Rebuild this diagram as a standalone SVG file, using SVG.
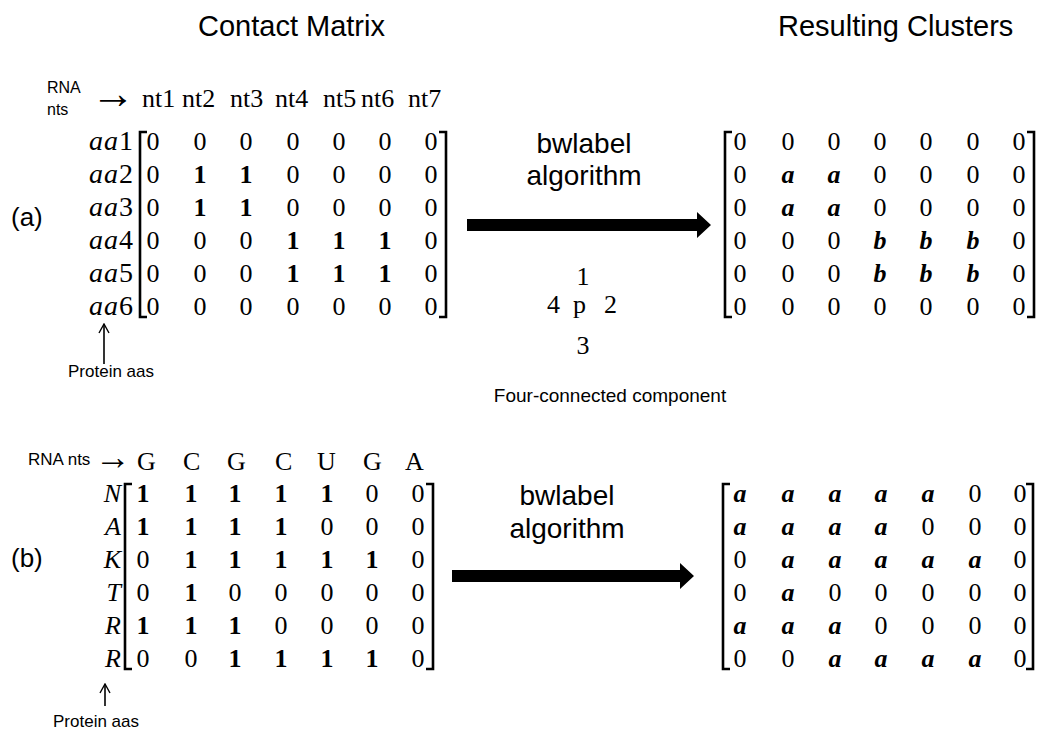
<svg xmlns="http://www.w3.org/2000/svg" width="1037" height="730" viewBox="0 0 1037 730">
  <style>
    .sans { font-family: "Liberation Sans", Arial, sans-serif; fill: #000; }
    .title { font-size: 29px; }
    .lbl { font-size: 26px; }
    .algo { font-size: 28px; text-anchor: middle; }
    .small { font-size: 17px; }
    .math { font-family: "Liberation Serif", "Times New Roman", serif; font-size: 26px; fill: #000; }
    .rowlab { font-size: 28px; letter-spacing: 1px; }
    .arrowglyph { font-family: "Liberation Sans", Arial, sans-serif; fill: #000; }
    .m text, text.c { text-anchor: middle; }
    .one { font-weight: bold; }
    .lab { font-weight: bold; font-style: italic; }
    .it { font-style: italic; }
    .br { fill: none; stroke: #000; stroke-width: 2.6; }
    .thin { fill: none; stroke: #000; stroke-width: 1.6; }
  </style>
  <defs>
    <marker id="openhead" viewBox="0 0 12 12" refX="11" refY="6" markerWidth="12" markerHeight="12" markerUnits="userSpaceOnUse" orient="auto">
      <path d="M2,1 L11,6 L2,11" fill="none" stroke="#000" stroke-width="1.4"/>
    </marker>
  </defs>

  <!-- headings -->
  <g id="title-contact"><text class="sans title" x="198" y="36">Contact Matrix</text></g>
  <g id="title-clusters"><text class="sans title" x="778" y="36">Resulting Clusters</text></g>

  <!-- part (a): contact matrix -->
  <g id="panel-a-label"><text class="sans lbl" x="11" y="226">(a)</text></g>

  <g id="a-header">
    <text class="sans" font-size="16" x="47" y="93">RNA</text>
    <text class="sans" font-size="16" x="47" y="115">nts</text>
    <text class="arrowglyph" font-size="44" x="91" y="108">→</text>
    <g class="math">
      <text x="142" y="107">nt1</text><text x="182" y="107">nt2</text><text x="230" y="107">nt3</text>
      <text x="275" y="107">nt4</text><text x="323" y="107">nt5</text><text x="361" y="107">nt6</text>
      <text x="408" y="107">nt7</text>
    </g>
  </g>

  <g id="a-rows" class="math rowlab" text-anchor="end">
    <text x="134" y="150"><tspan class="it">aa</tspan>1</text>
    <text x="134" y="183"><tspan class="it">aa</tspan>2</text>
    <text x="134" y="216"><tspan class="it">aa</tspan>3</text>
    <text x="134" y="249"><tspan class="it">aa</tspan>4</text>
    <text x="134" y="282"><tspan class="it">aa</tspan>5</text>
    <text x="134" y="315"><tspan class="it">aa</tspan>6</text>
  </g>

  <g id="a-contact-matrix">
    <path class="br" d="M147,132 H140 V317 H147"/>
    <path class="br" d="M439,132 H446 V317 H439"/>
    <g class="math m">
      <text x="153" y="150">0</text><text x="200" y="150">0</text><text x="246" y="150">0</text><text x="293" y="150">0</text><text x="339" y="150">0</text><text x="385" y="150">0</text><text x="431" y="150">0</text>
      <text x="153" y="183">0</text><text x="200" y="183" class="one">1</text><text x="246" y="183" class="one">1</text><text x="293" y="183">0</text><text x="339" y="183">0</text><text x="385" y="183">0</text><text x="431" y="183">0</text>
      <text x="153" y="216">0</text><text x="200" y="216" class="one">1</text><text x="246" y="216" class="one">1</text><text x="293" y="216">0</text><text x="339" y="216">0</text><text x="385" y="216">0</text><text x="431" y="216">0</text>
      <text x="153" y="249">0</text><text x="200" y="249">0</text><text x="246" y="249">0</text><text x="293" y="249" class="one">1</text><text x="339" y="249" class="one">1</text><text x="385" y="249" class="one">1</text><text x="431" y="249">0</text>
      <text x="153" y="282">0</text><text x="200" y="282">0</text><text x="246" y="282">0</text><text x="293" y="282" class="one">1</text><text x="339" y="282" class="one">1</text><text x="385" y="282" class="one">1</text><text x="431" y="282">0</text>
      <text x="153" y="315">0</text><text x="200" y="315">0</text><text x="246" y="315">0</text><text x="293" y="315">0</text><text x="339" y="315">0</text><text x="385" y="315">0</text><text x="431" y="315">0</text>
    </g>
  </g>

  <g id="a-protein-label"><text class="sans small" x="68" y="377">Protein aas</text></g>

  <!-- algorithm note for (a) -->
  <g id="a-algorithm">
    <text class="sans algo" x="584" y="153">bwlabel</text>
    <text class="sans algo" x="584" y="185">algorithm</text>
  </g>

  <g id="four-neighbourhood" class="math">
    <text class="c" x="583" y="285">1</text>
    <text x="547" y="313">4</text>
    <text x="573" y="313">p</text>
    <text x="604" y="313">2</text>
    <text class="c" x="583" y="354">3</text>
    <text class="sans c" font-size="19" x="610" y="402">Four-connected component</text>
  </g>

  <!-- part (a): labelled clusters -->
  <g id="a-cluster-matrix">
    <path class="br" d="M732,132 H725 V317 H732"/>
    <path class="br" d="M1027,132 H1034 V317 H1027"/>
    <g class="math m">
      <text x="740" y="150">0</text><text x="788" y="150">0</text><text x="834" y="150">0</text><text x="880" y="150">0</text><text x="926" y="150">0</text><text x="973" y="150">0</text><text x="1019" y="150">0</text>
      <text x="740" y="183">0</text><text x="788" y="183" class="lab">a</text><text x="834" y="183" class="lab">a</text><text x="880" y="183">0</text><text x="926" y="183">0</text><text x="973" y="183">0</text><text x="1019" y="183">0</text>
      <text x="740" y="216">0</text><text x="788" y="216" class="lab">a</text><text x="834" y="216" class="lab">a</text><text x="880" y="216">0</text><text x="926" y="216">0</text><text x="973" y="216">0</text><text x="1019" y="216">0</text>
      <text x="740" y="249">0</text><text x="788" y="249">0</text><text x="834" y="249">0</text><text x="880" y="249" class="lab">b</text><text x="926" y="249" class="lab">b</text><text x="973" y="249" class="lab">b</text><text x="1019" y="249">0</text>
      <text x="740" y="282">0</text><text x="788" y="282">0</text><text x="834" y="282">0</text><text x="880" y="282" class="lab">b</text><text x="926" y="282" class="lab">b</text><text x="973" y="282" class="lab">b</text><text x="1019" y="282">0</text>
      <text x="740" y="315">0</text><text x="788" y="315">0</text><text x="834" y="315">0</text><text x="880" y="315">0</text><text x="926" y="315">0</text><text x="973" y="315">0</text><text x="1019" y="315">0</text>
    </g>
  </g>

  <!-- part (b): contact matrix -->
  <g id="panel-b-label"><text class="sans lbl" x="11" y="567">(b)</text></g>

  <g id="b-header">
    <text class="sans small" x="28" y="465">RNA nts</text>
    <text class="arrowglyph" font-size="36" x="95" y="469">→</text>
    <g class="math">
      <text x="137" y="470">G</text><text x="183" y="470">C</text><text x="227" y="470">G</text><text x="275" y="470">C</text>
      <text x="317" y="470">U</text><text x="363" y="470">G</text><text x="405" y="470">A</text>
    </g>
  </g>

  <g id="b-rows" class="math it" text-anchor="end">
    <text x="121" y="502">N</text>
    <text x="121" y="535">A</text>
    <text x="121" y="568">K</text>
    <text x="121" y="601">T</text>
    <text x="121" y="634">R</text>
    <text x="121" y="667">R</text>
  </g>

  <g id="b-contact-matrix">
    <path class="br" d="M132,484 H125 V669 H132"/>
    <path class="br" d="M426,484 H433 V669 H426"/>
    <g class="math m">
      <text x="143" y="502" class="one">1</text><text x="191" y="502" class="one">1</text><text x="235" y="502" class="one">1</text><text x="281" y="502" class="one">1</text><text x="327" y="502" class="one">1</text><text x="372" y="502">0</text><text x="418" y="502">0</text>
      <text x="143" y="535" class="one">1</text><text x="191" y="535" class="one">1</text><text x="235" y="535" class="one">1</text><text x="281" y="535" class="one">1</text><text x="327" y="535">0</text><text x="372" y="535">0</text><text x="418" y="535">0</text>
      <text x="143" y="568">0</text><text x="191" y="568" class="one">1</text><text x="235" y="568" class="one">1</text><text x="281" y="568" class="one">1</text><text x="327" y="568" class="one">1</text><text x="372" y="568" class="one">1</text><text x="418" y="568">0</text>
      <text x="143" y="601">0</text><text x="191" y="601" class="one">1</text><text x="235" y="601">0</text><text x="281" y="601">0</text><text x="327" y="601">0</text><text x="372" y="601">0</text><text x="418" y="601">0</text>
      <text x="143" y="634" class="one">1</text><text x="191" y="634" class="one">1</text><text x="235" y="634" class="one">1</text><text x="281" y="634">0</text><text x="327" y="634">0</text><text x="372" y="634">0</text><text x="418" y="634">0</text>
      <text x="143" y="667">0</text><text x="191" y="667">0</text><text x="235" y="667" class="one">1</text><text x="281" y="667" class="one">1</text><text x="327" y="667" class="one">1</text><text x="372" y="667" class="one">1</text><text x="418" y="667">0</text>
    </g>
  </g>

  <g id="b-protein-label"><text class="sans small" x="53" y="727">Protein aas</text></g>

  <g id="b-algorithm">
    <text class="sans algo" x="567" y="505">bwlabel</text>
    <text class="sans algo" x="567" y="538">algorithm</text>
  </g>

  <!-- part (b): labelled clusters -->
  <g id="b-cluster-matrix">
    <path class="br" d="M730,484 H723 V669 H730"/>
    <path class="br" d="M1026,484 H1033 V669 H1026"/>
    <g class="math m">
      <text x="740" y="502" class="lab">a</text><text x="788" y="502" class="lab">a</text><text x="835" y="502" class="lab">a</text><text x="881" y="502" class="lab">a</text><text x="928" y="502" class="lab">a</text><text x="975" y="502">0</text><text x="1020" y="502">0</text>
      <text x="740" y="535" class="lab">a</text><text x="788" y="535" class="lab">a</text><text x="835" y="535" class="lab">a</text><text x="881" y="535" class="lab">a</text><text x="928" y="535">0</text><text x="975" y="535">0</text><text x="1020" y="535">0</text>
      <text x="740" y="568">0</text><text x="788" y="568" class="lab">a</text><text x="835" y="568" class="lab">a</text><text x="881" y="568" class="lab">a</text><text x="928" y="568" class="lab">a</text><text x="975" y="568" class="lab">a</text><text x="1020" y="568">0</text>
      <text x="740" y="601">0</text><text x="788" y="601" class="lab">a</text><text x="835" y="601">0</text><text x="881" y="601">0</text><text x="928" y="601">0</text><text x="975" y="601">0</text><text x="1020" y="601">0</text>
      <text x="740" y="634" class="lab">a</text><text x="788" y="634" class="lab">a</text><text x="835" y="634" class="lab">a</text><text x="881" y="634">0</text><text x="928" y="634">0</text><text x="975" y="634">0</text><text x="1020" y="634">0</text>
      <text x="740" y="667">0</text><text x="788" y="667">0</text><text x="835" y="667" class="lab">a</text><text x="881" y="667" class="lab">a</text><text x="928" y="667" class="lab">a</text><text x="975" y="667" class="lab">a</text><text x="1020" y="667">0</text>
    </g>
  </g>

  <!-- connectors: block arrows and pointer arrows -->
  <g id="connectors">
    <polygon points="467,219 697,219 697,212 711,225 697,238 697,231 467,231" fill="#000"/>
    <polygon points="452,570 680,570 680,563 694,576 680,589 680,582 452,582" fill="#000"/>
    <line class="thin" x1="104" y1="364" x2="104" y2="324" marker-end="url(#openhead)"/>
    <line class="thin" x1="105" y1="706" x2="105" y2="684" marker-end="url(#openhead)"/>
  </g>
</svg>
